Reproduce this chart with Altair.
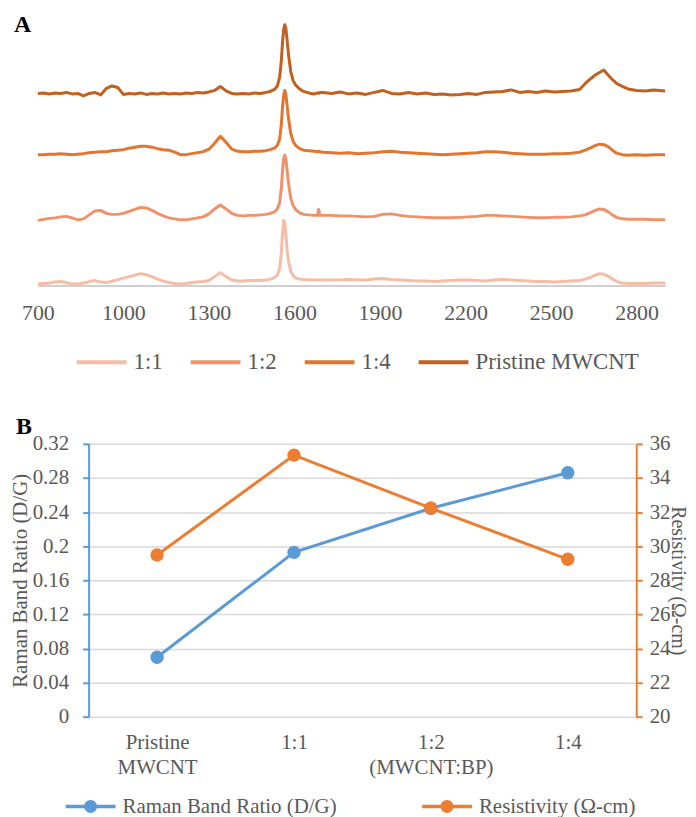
import altair as alt
import pandas as pd

# ---------------- Panel A : Raman spectra (offset) ----------------
WAVENUMBER = [
    700, 720, 740, 760, 780, 800, 820, 840, 860, 880, 900, 920, 940, 960, 980, 1000, 1020, 1040, 1060, 1080,
    1100, 1120, 1140, 1160, 1180, 1200, 1220, 1240, 1260, 1280, 1300, 1320, 1340, 1360, 1380, 1400, 1420, 1440,
    1460, 1480, 1500,
    1515, 1530, 1540, 1548, 1554, 1558, 1562, 1566, 1570, 1574, 1580, 1587, 1595, 1605, 1618, 1632, 1650,
    1670, 1681, 1685, 1689, 1700, 1730, 1760, 1790, 1820, 1850, 1880, 1910, 1940, 1970, 2000, 2030, 2060, 2090,
    2120, 2150, 2180, 2210, 2240, 2270, 2300, 2330, 2360, 2390, 2420, 2450, 2480, 2510, 2540, 2570, 2600,
    2620, 2640, 2655, 2670, 2685, 2700, 2715, 2730, 2750, 2770, 2800, 2830, 2860, 2900,
]

SPEC_PRISTINE = [
    193, 193.5, 192.5, 193.5, 193, 194, 192.5, 193, 190.5, 193, 194, 191.5, 198, 200.5, 199, 192, 193, 192.5,
    193.5, 192, 193, 192.5, 193.5, 192.5, 193, 192.5, 193.5, 193, 194, 193.5, 194.5, 196, 200, 195.5, 193,
    192.5, 193, 192.5, 193.5, 193, 194,
    195, 197, 200.5, 209, 226, 244, 257, 262, 258, 247, 230, 215, 206, 201, 197.5, 195, 193.5,
    192.5, 193.5, 193, 194, 194, 193, 194.5, 192.5, 193.5, 192, 194, 196, 193, 192.5, 194, 192.5, 193.5, 192,
    192.5, 191.5, 192, 193, 192, 194, 194.5, 195, 196.5, 194, 195, 194, 195.5, 194.5, 195, 195.5, 197,
    203, 208, 211.5, 214, 216.5, 211.5, 207, 203, 200, 197.5, 196, 195.5, 196.5, 195.5,
]

SPEC_1_4 = [
    131.5, 131.5, 132, 132, 132.5, 132, 131.5, 132, 132.5, 133.5, 134, 134.5, 134.5, 135.5, 136, 136.5, 138,
    139, 140, 140, 139, 137.5, 136.5, 136, 134, 131.5, 131.5, 132.5, 133.5, 134.5, 137, 143, 150, 144, 137,
    135, 134.5, 134.5, 135, 135, 135.5,
    136.5, 138, 141, 147, 162, 179, 191, 196, 192, 181, 166, 153, 145, 140.5, 137.5, 136, 135.5,
    135, 134.5, 135, 134.5, 134, 133.5, 133, 133.5, 132.5, 133, 133.5, 134.5, 135, 134, 133.5, 133, 132.5,
    132, 131.5, 132, 132.5, 133, 133.5, 134.5, 134.5, 134, 133, 132.5, 132, 132, 132, 132.5, 132.5, 133, 134,
    136, 138.5, 140.5, 142, 141.5, 139.5, 136, 133, 131.5, 131, 131.5, 131, 131.5, 131.5,
]

SPEC_1_2 = [
    65.5, 66.5, 67.5, 68, 69, 69.5, 68, 66, 67, 71, 75, 75.5, 72.5, 71.5, 71.5, 72.5, 74.5, 76.5, 78.5, 78,
    75.5, 72.5, 70, 68, 67, 66, 66, 67, 68, 69, 72, 77, 81, 77, 72.5, 70.5, 70, 70.5, 70.5, 71, 71.5,
    72.5, 74, 77, 83, 98, 115, 127, 131, 127, 116, 101, 88, 80.5, 76, 73, 71.5, 71,
    70.5, 70.5, 76.5, 70.5, 70.5, 70.5, 70, 70, 69.5, 69, 69.5, 71.5, 72, 70.5, 69.5, 69, 68.5, 68, 68, 68,
    68.5, 69, 69.5, 70.5, 70.5, 70, 69.5, 69, 68.5, 68, 68, 68.5, 68.5, 69, 70,
    71, 73.5, 75.5, 77, 76.5, 74, 71, 68.5, 67, 66.5, 66.5, 66.5, 66, 66,
]

SPEC_1_1 = [
    1.5, 2, 2.5, 3.5, 4, 3, 1.5, 1.5, 2.5, 4, 5, 3.5, 3, 4.5, 6, 7.5, 9, 10.5, 12, 11, 9, 6.5, 4.5, 3, 2,
    1.5, 2, 3, 3.5, 4, 5, 9, 13, 9, 5.5, 4.5, 4.5, 5, 5, 5, 5.5,
    6.5, 8, 10.5, 17, 33, 52, 65.5, 63, 51, 36, 23, 14.5, 10, 7.5, 6.5, 6, 5.5,
    5.5, 5.5, 5.5, 5.5, 5.5, 5.5, 5.5, 6, 5.5, 5.5, 6.5, 7, 6, 5.5, 5, 4.5, 4.5, 4, 4.5, 5, 5.5, 5.5, 5,
    4.5, 5.5, 6, 5.5, 5, 4.5, 4, 4, 3.5, 4, 4.5, 5,
    6.5, 8.5, 10.5, 12, 11.5, 9.5, 6.5, 4, 2.5, 2, 2, 2, 2.5, 2.5,
]

SERIES_A = ["1:1", "1:2", "1:4", "Pristine MWCNT"]
COLORS_A = ["#F5BCA6", "#F0916A", "#E3752E", "#C2601F"]
X_TICKS_A = [700, 1000, 1300, 1600, 1900, 2200, 2500, 2800]

# ---------------- Panel B : D/G ratio and resistivity ----------------
SAMPLES_B = ["Pristine MWCNT", "1:1", "1:2", "1:4"]
SAMPLE_LABELS_B = [["Pristine", "MWCNT"], ["1:1"], ["1:2", "(MWCNT:BP)"], ["1:4"]]
RAMAN_RATIO = [0.0697, 0.1927, 0.2445, 0.2861]
RESISTIVITY = [29.48, 35.34, 32.23, 29.23]
SERIES_B = ["Raman Band Ratio (D/G)", "Resistivity (Ω-cm)"]
COLORS_B = ["#5B9BD5", "#ED7D31"]
RAMAN_TICKS = [0, 0.04, 0.08, 0.12, 0.16, 0.2, 0.24, 0.28, 0.32]
RES_TICKS = [20, 22, 24, 26, 28, 30, 32, 34, 36]

FONT = "Liberation Serif"
GRAY = "#595959"

for s in (SPEC_PRISTINE, SPEC_1_4, SPEC_1_2, SPEC_1_1):
    assert len(s) == len(WAVENUMBER), (len(s), len(WAVENUMBER))

rows = []
for name, vals in zip(SERIES_A, [SPEC_1_1, SPEC_1_2, SPEC_1_4, SPEC_PRISTINE]):
    for w, v in zip(WAVENUMBER, vals):
        rows.append({"wavenumber": w, "intensity": v, "series": name})
df_a = pd.DataFrame(rows)

lines_a = alt.Chart(df_a).mark_line(strokeWidth=3, strokeJoin="round").encode(
    x=alt.X("wavenumber:Q",
            scale=alt.Scale(domain=[700, 2900], nice=False, zero=False),
            axis=alt.Axis(values=X_TICKS_A, format="d", title=None, grid=False, ticks=False, tickSize=0,
                          domainColor="#BFBFBF", domainWidth=1.5,
                          labelFont=FONT, labelFontSize=22, labelColor=GRAY, labelPadding=17,
                          labelFlush=False, labelOverlap=False)),
    y=alt.Y("intensity:Q", scale=alt.Scale(domain=[0, 264], nice=False, zero=False), axis=None),
    color=alt.Color("series:N",
                    scale=alt.Scale(domain=SERIES_A, range=COLORS_A),
                    legend=alt.Legend(title=None, orient="none", legendX=37, legendY=328, offset=0,
                                      direction="horizontal", symbolType="stroke", symbolSize=2500,
                                      symbolStrokeWidth=4, clipHeight=26, labelFont=FONT,
                                      labelFontSize=23, labelColor=GRAY, labelOffset=5,
                                      columnPadding=25.5, padding=0, labelLimit=400)),
)

label_a = alt.Chart(pd.DataFrame({"t": ["A"]})).mark_text(
    font=FONT, fontSize=24, fontWeight="bold", align="left", baseline="middle", color="black"
).encode(text="t:N", x=alt.value(-24), y=alt.value(2))

panel_a = alt.layer(lines_a, label_a).properties(width=630, height=264)

df_raman = pd.DataFrame({"sample": SAMPLES_B, "value": RAMAN_RATIO, "series": SERIES_B[0]})
df_res = pd.DataFrame({"sample": SAMPLES_B, "value": RESISTIVITY, "series": SERIES_B[1]})

label_expr = ""
for s, lab in zip(SAMPLES_B, SAMPLE_LABELS_B):
    arr = "[" + ",".join("'" + t + "'" for t in lab) + "]"
    label_expr += f"datum.value == '{s}' ? {arr} : "
label_expr += "datum.label"

# panel B shares panel A's origin; its plot area sits 51 px right and 29 px down of it
x_b = alt.X("sample:N", sort=SAMPLES_B,
            scale=alt.Scale(type="point", padding=0.5, range=[51, 601]),
            axis=alt.Axis(title=None, domain=False, ticks=False, grid=False, labelAngle=0,
                          labelFont=FONT, labelFontSize=21, labelColor=GRAY, labelPadding=15,
                          labelLineHeight=25, labelExpr=label_expr))

axis_left = alt.Axis(values=RAMAN_TICKS, format="~g", title=SERIES_B[0], grid=True, offset=-51,
                     gridColor="#D9D9D9", gridWidth=1.5, domainColor=COLORS_B[0], domainWidth=2,
                     tickColor=COLORS_B[0], tickWidth=2, tickSize=6, labelFont=FONT, labelFontSize=21,
                     labelColor=GRAY, labelPadding=14, titleFont=FONT, titleFontSize=21,
                     titleFontWeight="normal", titleColor=GRAY, titlePadding=2)
axis_right = alt.Axis(values=RES_TICKS, orient="right", title=SERIES_B[1], grid=False,
                      domainColor=COLORS_B[1], domainWidth=2, tickColor=COLORS_B[1], tickWidth=2,
                      tickSize=6, labelFont=FONT, labelFontSize=21, labelColor=GRAY, labelPadding=7,
                      titleFont=FONT, titleFontSize=20, titleFontWeight="normal", titleColor=GRAY,
                      titlePadding=-3)

color_scale_b = alt.Scale(domain=SERIES_B, range=COLORS_B)
legend_b = alt.Legend(title=None, orient="none", legendX=27, legendY=382.8, offset=0,
                      direction="horizontal",
                      symbolType="M-1,-0.07H-0.24V0.07H-1Z M0.24,-0.07H1V0.07H0.24Z "
                                 "M-0.26,0A0.26,0.26,0,1,1,0.26,0A0.26,0.26,0,1,1,-0.26,0Z",
                      symbolSize=2500, clipHeight=21, labelFont=FONT,
                      labelFontSize=21, labelColor=GRAY, labelOffset=6, columnPadding=84,
                      padding=0, labelLimit=400)

y_left = alt.Y("value:Q", scale=alt.Scale(domain=[0, 0.32], range=[303, 29], nice=False, zero=False),
               axis=axis_left)
y_right = alt.Y("value:Q", scale=alt.Scale(domain=[20, 36], range=[303, 29], nice=False, zero=False),
                axis=axis_right)

left_line = alt.Chart(df_raman).mark_line(strokeWidth=3, color=COLORS_B[0]).encode(x=x_b, y=y_left)
left_pt = alt.Chart(df_raman).mark_point(filled=True, size=180, opacity=1).encode(
    x=x_b, y=y_left, color=alt.Color("series:N", scale=color_scale_b, legend=legend_b))
right_line = alt.Chart(df_res).mark_line(strokeWidth=3, color=COLORS_B[1]).encode(x=x_b, y=y_right)
right_pt = alt.Chart(df_res).mark_point(filled=True, size=180, opacity=1).encode(
    x=x_b, y=y_right, color=alt.Color("series:N", scale=color_scale_b, legend=legend_b))

label_b = alt.Chart(pd.DataFrame({"t": ["B"]})).mark_text(
    font=FONT, fontSize=24, fontWeight="bold", align="left", baseline="middle", color="black"
).encode(text="t:N", x=alt.value(-22), y=alt.value(12))

panel_b = alt.layer(
    alt.layer(left_line, left_pt),
    alt.layer(right_line, right_pt),
    label_b,
).resolve_scale(y="independent").properties(width=601, height=303)

chart = alt.concat(panel_a, panel_b, columns=1, spacing=38, align="none", bounds="full").resolve_scale(
    color="independent"
).resolve_legend(color="independent").properties(
    padding={"left": 0, "top": 2, "right": 0, "bottom": 0}, background="white"
).configure(font=FONT).configure_legend(offset=0).configure_view(stroke="transparent")

chart.save("out.html", embed_options={"renderer": "svg", "actions": False})
